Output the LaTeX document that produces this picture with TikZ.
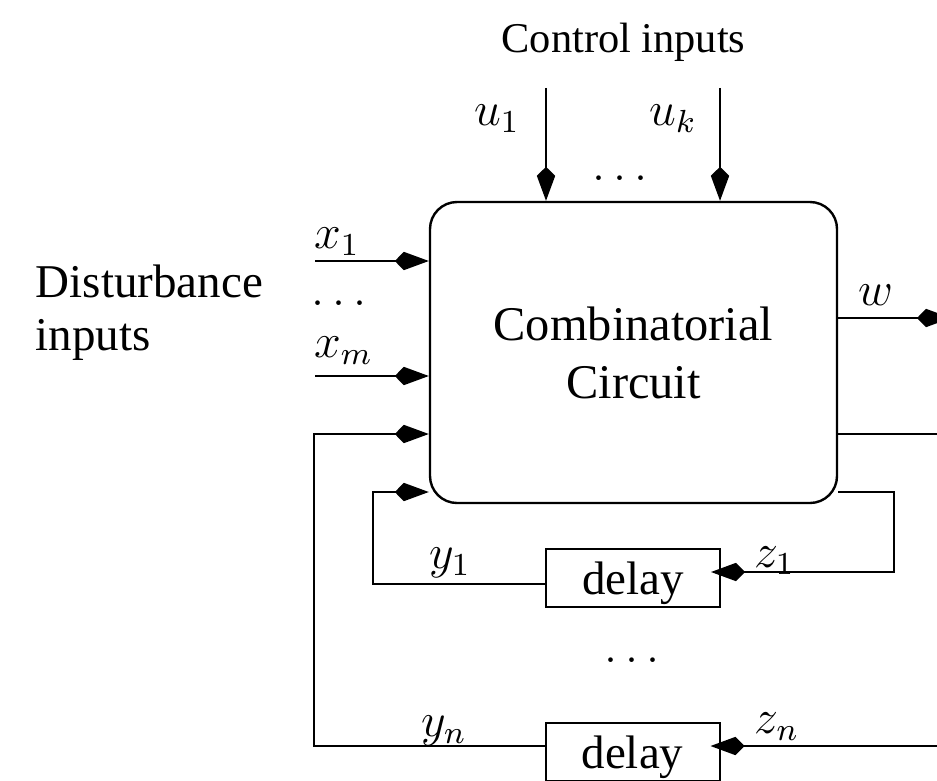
\documentclass[tikz,border=0pt]{standalone}
\usepackage[no-math]{fontspec}
\setmainfont{Liberation Serif}
\usetikzlibrary{arrows.meta}
\usetikzlibrary{positioning}
\usetikzlibrary{calc}
\tikzstyle{circuit}=[draw,line width=0.6pt,rounded corners=6.75pt,minimum width=101.75pt,minimum height=75.25pt,inner sep=0pt,align=center,font=\fontsize{12.1}{14.5}\selectfont]
\tikzstyle{delaybox}=[draw,line width=0.5pt,minimum width=43.5pt,minimum height=14.5pt,inner sep=0pt,text depth=0pt]
\tikzstyle{wire}=[line width=0.5pt]
\tikzstyle{signal}=[wire,-{Kite[length=8.5pt,width=4.6pt,inset=2.25pt]}]
\tikzstyle{tag}=[anchor=base,inner sep=0pt]

\begin{document}
\begin{tikzpicture}[x=0.25pt,y=-0.25pt,font=\fontsize{11.75}{14.5}\selectfont]
\useasboundingbox (0,0) rectangle (937,780);

%blocks
\node[circuit] (cc) at (633.5,352.5) {Combinatorial\\Circuit};
\node[delaybox] (d1) at (633,578) {delay};
\node[delaybox] (dn) at (632.5,752) {delay};

%texts
\node[tag,font=\fontsize{10.6}{13}\selectfont] (ctl) at (623.5,53) {Control inputs};
\node[tag,anchor=base west] (dist) at (35,297) {Disturbance};
\node[tag,anchor=base west] (distin) at (35,350) {inputs};

\foreach \pos/\name/\label in {{(497,125)/lu1/u_1}, {(673,125)/luk/u_k}, {(620,180)/ludots/\dots},
    {(337,248)/lx1/x_1}, {(339,305)/lxdots/\dots}, {(343.5,357)/lxm/x_m}, {(876,305)/lw/w},
    {(450,568)/ly1/y_1}, {(774.5,567)/lz1/z_1}, {(632,662)/lddots/\dots},
    {(444,736)/lyn/y_n}, {(777,733)/lzn/z_n}}
    \node[tag] (\name) at \pos {$\label$};

%control inputs
\foreach \name/\xpos in {u1in/546, ukin/720}{
    \coordinate (\name) at (\xpos,88);
    \draw[signal] (\name) -- (\name |- cc.north);
}

%disturbance inputs
\foreach \name/\ypos in {x1in/261, xmin/376}{
    \coordinate (\name) at (315,\ypos);
    \draw[signal] (\name) -- (\name -| cc.west);
}

%output
\coordinate (wout) at (951,318);
\draw[signal] (wout -| cc.east) -- (wout);

%first delay loop
\coordinate (z1a) at (894,492);
\coordinate (z1b) at (894,572);
\draw[signal,shorten >=-2.5pt] (z1a -| cc.east) -- (z1a) -- (z1b) -- (z1b -| d1.east);
\coordinate (y1a) at (373,584);
\coordinate (y1b) at (373,492);
\draw[signal] (y1a -| d1.west) -- (y1a) -- (y1b) -- (y1b -| cc.west);

%last delay loop
\coordinate (zna) at (950,434);
\coordinate (znb) at (950,746);
\draw[signal,shorten >=-2.5pt] (zna -| cc.east) -- (zna) -- (znb) -- (znb -| dn.east);
\coordinate (yna) at (314,746);
\coordinate (ynb) at (314,434);
\draw[signal] (yna -| dn.west) -- (yna) -- (ynb) -- (ynb -| cc.west);

\end{tikzpicture}
\end{document}
